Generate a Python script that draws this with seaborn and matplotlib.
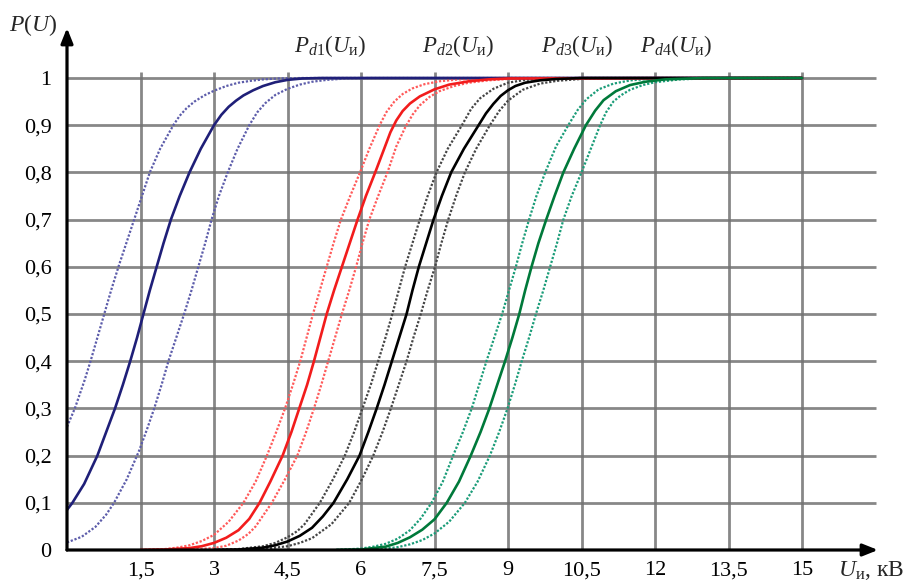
import numpy as np
import seaborn as sns
import matplotlib.pyplot as plt

# curve data: U in kV, P(U)
# Pd1 (blue): solid curve and the two dotted bounds
u_d1 = [0, 0.11, 0.35, 0.62, 0.80, 0.98, 1.14, 1.29, 1.43, 1.56, 1.69, 1.83, 1.97, 2.12, 2.30, 2.50, 2.73,
        3.00, 3.15, 3.30, 3.45, 3.60, 3.80, 4.00, 4.25, 4.50, 4.80, 5.20, 15]
p_d1 = [0.085, 0.10, 0.14, 0.20, 0.25, 0.30, 0.35, 0.40, 0.45, 0.50, 0.55, 0.60, 0.65, 0.70, 0.75, 0.80, 0.85,
        0.90, 0.922, 0.939, 0.952, 0.963, 0.974, 0.983, 0.991, 0.996, 0.999, 1.0, 1.0]
u_d1_lo = [0, 0.16, 0.36, 0.48, 0.62, 0.76, 0.90, 1.05, 1.21, 1.37, 1.53, 1.69, 1.90, 2.17, 2.30, 2.44, 2.60,
           2.80, 3.00, 3.25, 3.50, 3.75, 4.00, 4.30, 4.80, 15]
p_d1_lo = [0.261, 0.30, 0.36, 0.40, 0.45, 0.50, 0.55, 0.60, 0.65, 0.70, 0.75, 0.80, 0.85, 0.90, 0.92, 0.936, 0.95,
           0.963, 0.973, 0.983, 0.99, 0.994, 0.997, 0.999, 1.0, 1.0]
u_d1_hi = [0, 0.30, 0.58, 0.80, 0.96, 1.22, 1.47, 1.63, 1.78, 1.93, 2.07, 2.23, 2.39, 2.54, 2.68, 2.82, 2.95,
           3.10, 3.28, 3.48, 3.72, 3.88, 4.05, 4.25, 4.50, 4.75, 5.00, 5.30, 5.70, 6.20, 15]
p_d1_hi = [0.016, 0.028, 0.049, 0.075, 0.10, 0.15, 0.21, 0.255, 0.30, 0.35, 0.40, 0.45, 0.50, 0.55, 0.60, 0.65, 0.70,
           0.75, 0.80, 0.85, 0.90, 0.927, 0.947, 0.964, 0.977, 0.986, 0.992, 0.996, 0.999, 1.0, 1.0]

# Pd2 (red)
u_d2 = [1.5, 2.0, 2.5, 2.75, 3.0, 3.25, 3.5, 3.72, 3.93, 4.15, 4.40, 4.58, 4.74, 4.90, 5.04, 5.17, 5.30, 5.45,
        5.61, 5.77, 5.93, 6.10, 6.29, 6.48, 6.60, 6.72, 6.85, 7.0, 7.2, 7.5, 7.8, 8.2, 8.6, 9.0, 15]
p_d2 = [0, 0.001, 0.004, 0.008, 0.015, 0.026, 0.042, 0.066, 0.10, 0.145, 0.20, 0.25, 0.30, 0.35, 0.40, 0.45, 0.50, 0.55,
        0.60, 0.65, 0.70, 0.75, 0.80, 0.852, 0.885, 0.91, 0.93, 0.946, 0.961, 0.976, 0.986, 0.993, 0.997, 0.999, 1.0]
u_d2_lo = [1.5, 2.0, 2.25, 2.5, 2.75, 3.0, 3.3, 3.60, 3.85, 4.08, 4.27, 4.45, 4.61, 4.76, 4.89, 5.02, 5.16, 5.30,
           5.44, 5.59, 5.78, 5.98, 6.17, 6.38, 6.52, 6.68, 6.85, 7.05, 7.3, 7.6, 8.0, 8.5, 9.0, 15]
p_d2_lo = [0, 0.002, 0.005, 0.01, 0.019, 0.032, 0.06, 0.10, 0.145, 0.20, 0.25, 0.30, 0.35, 0.40, 0.45, 0.50, 0.55, 0.60,
           0.65, 0.70, 0.75, 0.80, 0.85, 0.90, 0.928, 0.95, 0.966, 0.978, 0.987, 0.993, 0.997, 0.999, 1.0, 1.0]
u_d2_hi = [1.5, 2.5, 3.0, 3.25, 3.5, 3.7, 3.85, 4.18, 4.45, 4.70, 4.88, 5.04, 5.19, 5.33, 5.47, 5.61, 5.76, 5.90,
           6.03, 6.17, 6.35, 6.54, 6.72, 6.90, 7.05, 7.2, 7.4, 7.6, 7.9, 8.2, 8.6, 9.0, 9.5, 10.0, 15]
p_d2_hi = [0, 0.001, 0.004, 0.009, 0.02, 0.034, 0.05, 0.10, 0.15, 0.20, 0.25, 0.30, 0.35, 0.40, 0.45, 0.50, 0.55, 0.60,
           0.65, 0.70, 0.75, 0.80, 0.855, 0.895, 0.922, 0.942, 0.96, 0.972, 0.983, 0.99, 0.995, 0.998, 0.9995, 1.0, 1.0]

# Pd3 (black)
u_d3 = [3.0, 3.5, 3.75, 4.0, 4.25, 4.5, 4.75, 5.0, 5.22, 5.44, 5.72, 5.97, 6.15, 6.32, 6.48, 6.63, 6.78, 6.93,
        7.05, 7.18, 7.33, 7.48, 7.65, 7.84, 8.1, 8.40, 8.55, 8.7, 8.85, 9.0, 9.15, 9.35, 9.65, 10.0, 10.5, 15]
p_d3 = [0, 0.001, 0.003, 0.005, 0.01, 0.018, 0.03, 0.047, 0.071, 0.10, 0.15, 0.20, 0.25, 0.30, 0.35, 0.40, 0.45, 0.50,
        0.55, 0.60, 0.65, 0.70, 0.75, 0.80, 0.85, 0.90, 0.925, 0.945, 0.962, 0.974, 0.983, 0.99, 0.995, 0.998, 1.0, 1.0]
u_d3_lo = [3.0, 3.5, 4.0, 4.25, 4.5, 4.7, 4.85, 5.16, 5.43, 5.67, 5.86, 6.03, 6.2, 6.35, 6.5, 6.64, 6.77, 6.90,
           7.05, 7.20, 7.36, 7.54, 7.77, 8.06, 8.25, 8.43, 8.7, 9.0, 9.35, 9.8, 15]
p_d3_lo = [0, 0.002, 0.008, 0.015, 0.027, 0.04, 0.055, 0.10, 0.15, 0.20, 0.25, 0.30, 0.35, 0.40, 0.45, 0.50, 0.55, 0.60,
           0.65, 0.70, 0.75, 0.80, 0.85, 0.90, 0.935, 0.957, 0.977, 0.99, 0.996, 0.999, 1.0]
u_d3_hi = [3.0, 4.0, 4.5, 4.75, 5.0, 5.4, 5.76, 6.02, 6.25, 6.44, 6.61, 6.77, 6.93, 7.07, 7.22, 7.36, 7.51, 7.64,
           7.78, 7.94, 8.12, 8.35, 8.63, 8.82, 9.0, 9.3, 9.65, 10.0, 10.5, 11.5, 15]
p_d3_hi = [0, 0.002, 0.008, 0.015, 0.025, 0.055, 0.10, 0.15, 0.20, 0.25, 0.30, 0.35, 0.40, 0.45, 0.50, 0.55, 0.60, 0.65,
           0.70, 0.75, 0.80, 0.85, 0.90, 0.93, 0.952, 0.975, 0.988, 0.994, 0.998, 1.0, 1.0]

# Pd4 (green)
u_d4 = [5.5, 6.0, 6.5, 6.75, 7.0, 7.25, 7.5, 7.75, 8.0, 8.24, 8.44, 8.62, 8.78, 8.94, 9.09, 9.23, 9.35, 9.48,
        9.62, 9.78, 9.95, 10.13, 10.35, 10.59, 10.78, 10.95, 11.2, 11.49, 11.8, 12.2, 13.0, 15]
p_d4 = [0, 0.001, 0.007, 0.015, 0.027, 0.043, 0.065, 0.10, 0.145, 0.20, 0.25, 0.30, 0.35, 0.40, 0.45, 0.50, 0.55, 0.60,
        0.65, 0.70, 0.75, 0.80, 0.85, 0.90, 0.931, 0.953, 0.972, 0.985, 0.992, 0.997, 1.0, 1.0]
u_d4_lo = [5.5, 6.0, 6.25, 6.5, 6.75, 7.0, 7.22, 7.44, 7.67, 7.88, 8.08, 8.26, 8.41, 8.56, 8.72, 8.88, 9.02, 9.16,
           9.29, 9.43, 9.58, 9.76, 9.98, 10.23, 10.42, 10.6, 10.85, 11.15, 11.5, 12.0, 15]
p_d4_lo = [0, 0.003, 0.007, 0.013, 0.024, 0.042, 0.067, 0.10, 0.145, 0.20, 0.25, 0.30, 0.35, 0.40, 0.45, 0.50, 0.55, 0.60,
           0.65, 0.70, 0.75, 0.80, 0.855, 0.90, 0.932, 0.955, 0.976, 0.988, 0.995, 0.999, 1.0]
u_d4_hi = [5.5, 6.0, 6.5, 6.75, 7.0, 7.25, 7.5, 7.8, 8.12, 8.38, 8.63, 8.82, 8.99, 9.14, 9.28, 9.43, 9.57, 9.72,
           9.86, 10.0, 10.13, 10.3, 10.50, 10.69, 10.88, 11.0, 11.15, 11.3, 11.49, 11.75, 12.0, 12.5, 13.0, 13.5, 15]
p_d4_hi = [0, 0.001, 0.003, 0.006, 0.012, 0.021, 0.035, 0.06, 0.10, 0.145, 0.20, 0.25, 0.30, 0.35, 0.40, 0.45, 0.50, 0.55,
           0.60, 0.65, 0.70, 0.75, 0.80, 0.85, 0.90, 0.927, 0.95, 0.963, 0.975, 0.985, 0.991, 0.997, 0.999, 1.0, 1.0]

x_ticks = [1.5, 3, 4.5, 6, 7.5, 9, 10.5, 12, 13.5, 15]
x_tick_labels = ['1,5', '3', '4,5', '6', '7,5', '9', '10,5', '12', '13,5', '15']
y_ticks = [0, 0.1, 0.2, 0.3, 0.4, 0.5, 0.6, 0.7, 0.8, 0.9, 1.0]
y_tick_labels = ['0', '0,1', '0,2', '0,3', '0,4', '0,5', '0,6', '0,7', '0,8', '0,9', '1']
curve_labels = [r'$P_{d1}(U_{\mathrm{и}})$', r'$P_{d2}(U_{\mathrm{и}})$',
                r'$P_{d3}(U_{\mathrm{и}})$', r'$P_{d4}(U_{\mathrm{и}})$']

sns.set_theme(style='white')
plt.rcParams['font.family'] = ['Liberation Serif', 'DejaVu Serif']
plt.rcParams['mathtext.fontset'] = 'custom'
plt.rcParams['mathtext.rm'] = 'Liberation Serif'
plt.rcParams['mathtext.it'] = 'Liberation Serif:italic'

fig = plt.figure(figsize=(9.07, 5.83), dpi=100)
ax = fig.add_axes([67 / 907, 33 / 583, 811 / 907, 522 / 583])
ax.set_xlim(0, 811 / 49)
ax.set_ylim(0, 522 / 472)

# grid
ax.vlines(x_ticks, 0, 1.012, color='#727272', lw=2.0, alpha=0.85, zorder=1)
ax.hlines(y_ticks[1:], 0, 16.5, color='#727272', lw=2.0, alpha=0.85, zorder=1)

groups = [
    (u_d1, p_d1, u_d1_lo, p_d1_lo, u_d1_hi, p_d1_hi, '#1f1f78', '#5c5caa'),
    (u_d2, p_d2, u_d2_lo, p_d2_lo, u_d2_hi, p_d2_hi, '#f21c1c', '#ff5a5a'),
    (u_d3, p_d3, u_d3_lo, p_d3_lo, u_d3_hi, p_d3_hi, '#000000', '#454545'),
    (u_d4, p_d4, u_d4_lo, p_d4_lo, u_d4_hi, p_d4_hi, '#00793a', '#1a9c78'),
]
for u, p, ul, pl, uh, ph, c_solid, c_dot in groups:
    for uu, pp in [(ul, pl), (uh, ph)]:
        sns.lineplot(x=uu, y=pp, ax=ax, color=c_dot, lw=1.6, linestyle=(0, (1, 0.8)),
                     estimator=None, sort=False, zorder=3)
    sns.lineplot(x=u, y=p, ax=ax, color=c_solid, lw=1.9, estimator=None, sort=False, zorder=4)

# axes drawn as arrows
for s in ax.spines.values():
    s.set_visible(False)
for tip in [(0, 1), (1, 0)]:
    ax.annotate('', xy=tip, xytext=(0, 0), xycoords='axes fraction',
                arrowprops=dict(arrowstyle='-|>,head_length=0.45,head_width=0.18',
                                mutation_scale=20, lw=2.3, color='black',
                                shrinkA=0, shrinkB=0), zorder=6)

ax.set_xticks(x_ticks)
ax.set_xticklabels(x_tick_labels)
ax.set_yticks(y_ticks)
ax.set_yticklabels(y_tick_labels)
ax.tick_params(axis='both', length=0, labelsize=16, colors='black')
ax.tick_params(axis='y', pad=11)
ax.tick_params(axis='x', pad=8)
ax.set_xlabel('')
ax.set_ylabel('')

ax.text(-0.2, 1.0985, r'$P(U)$', fontsize=17, ha='right', va='baseline', clip_on=False)
ax.text(15.73, -0.0545, r'$U_{\mathrm{и}}$, кВ', fontsize=17, ha='left', va='baseline', clip_on=False)
label_pos = [5.37, 7.98, 10.42, 12.43]
for lx, lab in zip(label_pos, curve_labels):
    ax.text(lx, 1.055, lab, fontsize=16.5, ha='center', va='baseline')

fig.savefig('out.png', dpi=100)
